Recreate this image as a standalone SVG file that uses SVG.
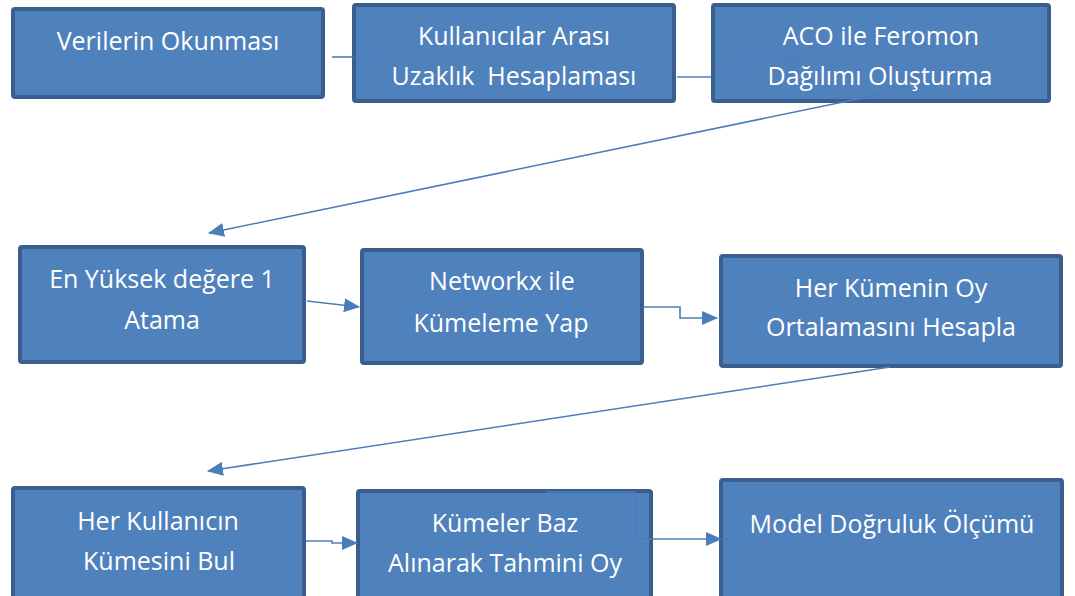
<svg xmlns="http://www.w3.org/2000/svg" width="1075" height="596" viewBox="0 0 1075 596">
<style>
.box{fill:#4f81bd;stroke:#3a5f8e;stroke-width:4}
.t{font-family:"Open Sans","Noto Sans",sans-serif;font-size:25px;fill:#ffffff;text-anchor:middle}
.c{fill:none;stroke:#4a7ebb;stroke-width:1.6}
.f{opacity:0.35}
</style>
<defs>
<marker id="ahb" markerWidth="16" markerHeight="14" refX="15" refY="7" orient="auto" markerUnits="userSpaceOnUse" viewBox="0 0 16 14">
<path d="M0,0 L16,7 L0,14 Z" fill="#4a7ebb"/>
</marker>
</defs>
<rect width="1075" height="596" fill="#ffffff"/>
<g id="n1"><rect class="box" x="13" y="9" width="310" height="88" rx="2"/><text class="t" x="168" y="50">Verilerin Okunması</text></g>
<g id="n2"><rect class="box" x="354" y="5" width="320" height="96" rx="2"/><text class="t" x="514" y="45">Kullanıcılar Arası</text><text class="t" x="514" y="85" xml:space="preserve">Uzaklık  Hesaplaması</text></g>
<g id="n3"><rect class="box" x="713" y="5" width="336" height="96" rx="2"/><text class="t" x="881" y="45">ACO ile Feromon</text><text class="t" x="880" y="85">Dağılımı Oluşturma</text></g>
<g id="n4"><rect class="box" x="20" y="247" width="284" height="115" rx="2"/><text class="t" x="162" y="288">En Yüksek değere 1</text><text class="t" x="162" y="329">Atama</text></g>
<g id="n5"><rect class="box" x="362" y="250" width="280" height="113" rx="2"/><text class="t" x="502" y="290">Networkx ile</text><text class="t" x="501" y="332">Kümeleme Yap</text></g>
<g id="n6"><rect class="box" x="721" y="256" width="340" height="110" rx="2"/><text class="t" x="891" y="297">Her Kümenin Oy</text><text class="t" x="891" y="336">Ortalamasını Hesapla</text></g>
<g id="n7"><rect class="box" x="13" y="488" width="291" height="115" rx="2"/><text class="t" x="158" y="530">Her Kullanıcın</text><text class="t" x="159" y="570">Kümesini Bul</text></g>
<g id="n8"><rect class="box" x="358" y="491" width="293" height="115" rx="2"/><text class="t" x="505" y="532">Kümeler Baz</text><text class="t" x="505" y="572">Alınarak Tahmini Oy</text></g>
<g id="n9"><rect class="box" x="721" y="480" width="341" height="120" rx="2"/><text class="t" x="892" y="533">Model Doğruluk Ölçümü</text></g>
<g id="connectors">
<path class="c" d="M332,57 L352,57"/>
<path class="c f" d="M352,57 L372,57" marker-end="url(#ahb)"/>
<path class="c" d="M677,77 L711,77"/>
<path class="c f" d="M711,77 L742,77 L742,62 L802,62" marker-end="url(#ahb)"/>
<path class="c" d="M882,94 L209,233" marker-end="url(#ahb)"/>
<path class="c" d="M307,301 L359,307" marker-end="url(#ahb)"/>
<path class="c" d="M643,307 L680,307 L680,318 L717,318" marker-end="url(#ahb)"/>
<path class="c" d="M890,367 L208,471" marker-end="url(#ahb)"/>
<path class="c" d="M306,541 L332,541 L332,543 L357,543" marker-end="url(#ahb)"/>
<path class="c" d="M547,492 L635,492 L635,539 L721,539" marker-end="url(#ahb)"/>
</g>
</svg>
